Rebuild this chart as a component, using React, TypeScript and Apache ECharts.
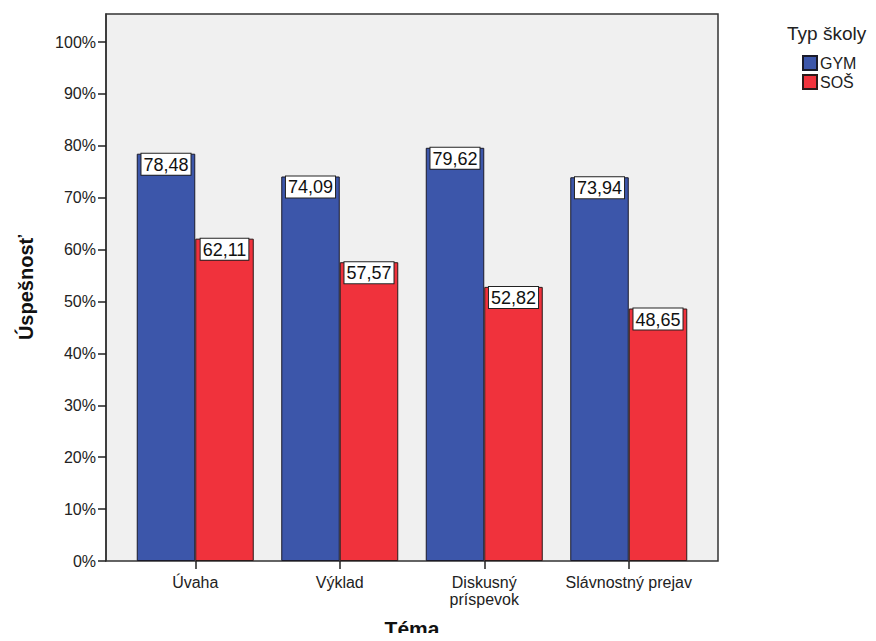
import React, { useEffect, useRef } from "react";
import * as echarts from "echarts";

const categories = ["Úvaha", "Výklad", "Diskusný\npríspevok", "Slávnostný prejav"];
const gymValues = [78.48, 74.09, 79.62, 73.94];
const sosValues = [62.11, 57.57, 52.82, 48.65];
const yTicks = [0, 10, 20, 30, 40, 50, 60, 70, 80, 90, 100];
const seriesNames = ["GYM", "SOŠ"];

const FONT = "'Liberation Sans', Arial, sans-serif";
const Y_MAX = 105.4;

export default function App() {
  const ref = useRef<HTMLDivElement>(null);
  useEffect(() => {
    if (!ref.current) return;
    const chart = echarts.init(ref.current, null, { renderer: "svg" });
    const labelCfg = {
      show: true,
      position: "insideTop",
      distance: 0,
      formatter: (p: any) => Number(p.value).toFixed(2).replace(".", ","),
      backgroundColor: "#ffffff",
      borderColor: "#222222",
      borderWidth: 1,
      padding: [2, 2, 1, 2],
      fontSize: 18,
      fontFamily: FONT,
      color: "#111111",
    };
    chart.setOption({
      animation: false,
      textStyle: { fontFamily: FONT },
      title: {
        text: "Typ školy",
        left: 787,
        top: 24,
        padding: 0,
        textStyle: { fontSize: 19, fontWeight: "normal", color: "#222", fontFamily: FONT },
      },
      legend: {
        orient: "vertical",
        left: 802,
        top: 55,
        padding: 0,
        itemWidth: 14,
        itemHeight: 14,
        itemGap: 3,
        icon: "rect",
        data: seriesNames,
        textStyle: { fontSize: 16, color: "#222", fontFamily: FONT, padding: [0, 0, 0, -2] },
      },
      grid: [
        {
          left: 106,
          right: 158,
          top: 14,
          bottom: 80,
          show: true,
          backgroundColor: "#f0f0f0",
          borderColor: "#333333",
          borderWidth: 1.5,
          containLabel: false,
          outerBoundsMode: "none",
        },
        {
          left: 123,
          right: 175,
          top: 14,
          bottom: 80,
          containLabel: false,
          outerBoundsMode: "none",
        },
      ],
      xAxis: [
        {
          gridIndex: 0,
          type: "value",
          min: 0,
          max: 1,
          show: false,
        },
        {
          gridIndex: 1,
          type: "category",
          data: categories,
          axisLine: { show: false },
          axisTick: {
            show: true,
            alignWithLabel: true,
            interval: 0,
            length: 8,
            lineStyle: { color: "#222", width: 1.5 },
          },
          axisLabel: {
            interval: 0,
            hideOverlap: false,
            fontSize: 16,
            color: "#222",
            margin: 13,
            lineHeight: 17,
            fontFamily: FONT,
          },
          name: "Téma",
          nameLocation: "middle",
          nameGap: 57,
          nameTextStyle: { fontSize: 21, fontWeight: "bold", color: "#111", fontFamily: FONT },
        },
      ],
      yAxis: [
        {
          gridIndex: 0,
          type: "value",
          min: 0,
          max: Y_MAX,
          interval: 10,
          splitLine: { show: false },
          axisLine: { show: true, lineStyle: { color: "#333", width: 1.5 } },
          axisTick: {
            show: true,
            length: 8,
            customValues: yTicks,
            lineStyle: { color: "#222", width: 1.5 },
          },
          axisLabel: {
            customValues: yTicks,
            formatter: (v: number) => `${v}%`,
            fontSize: 16,
            color: "#222",
            margin: 10,
            fontFamily: FONT,
          },
          name: "Úspešnosť",
          nameLocation: "middle",
          nameGap: 70,
          nameTextStyle: { fontSize: 20, fontWeight: "bold", color: "#111", fontFamily: FONT },
        },
        {
          gridIndex: 1,
          type: "value",
          min: 0,
          max: Y_MAX,
          show: false,
          splitLine: { show: false },
        },
      ],
      series: [
        {
          name: seriesNames[0],
          type: "bar",
          xAxisIndex: 1,
          yAxisIndex: 1,
          data: gymValues,
          barWidth: 58.5,
          barGap: "0%",
          itemStyle: { color: "#3c56aa", borderColor: "#1a1a2a", borderWidth: 1 },
          label: labelCfg,
        },
        {
          name: seriesNames[1],
          type: "bar",
          xAxisIndex: 1,
          yAxisIndex: 1,
          data: sosValues,
          barWidth: 58.5,
          barGap: "0%",
          itemStyle: { color: "#f0323c", borderColor: "#2a1a1a", borderWidth: 1 },
          label: labelCfg,
        },
      ],
    });
    return () => chart.dispose();
  }, []);
  return <div ref={ref} style={{ width: 876, height: 641, margin: -8 }} />;
}
